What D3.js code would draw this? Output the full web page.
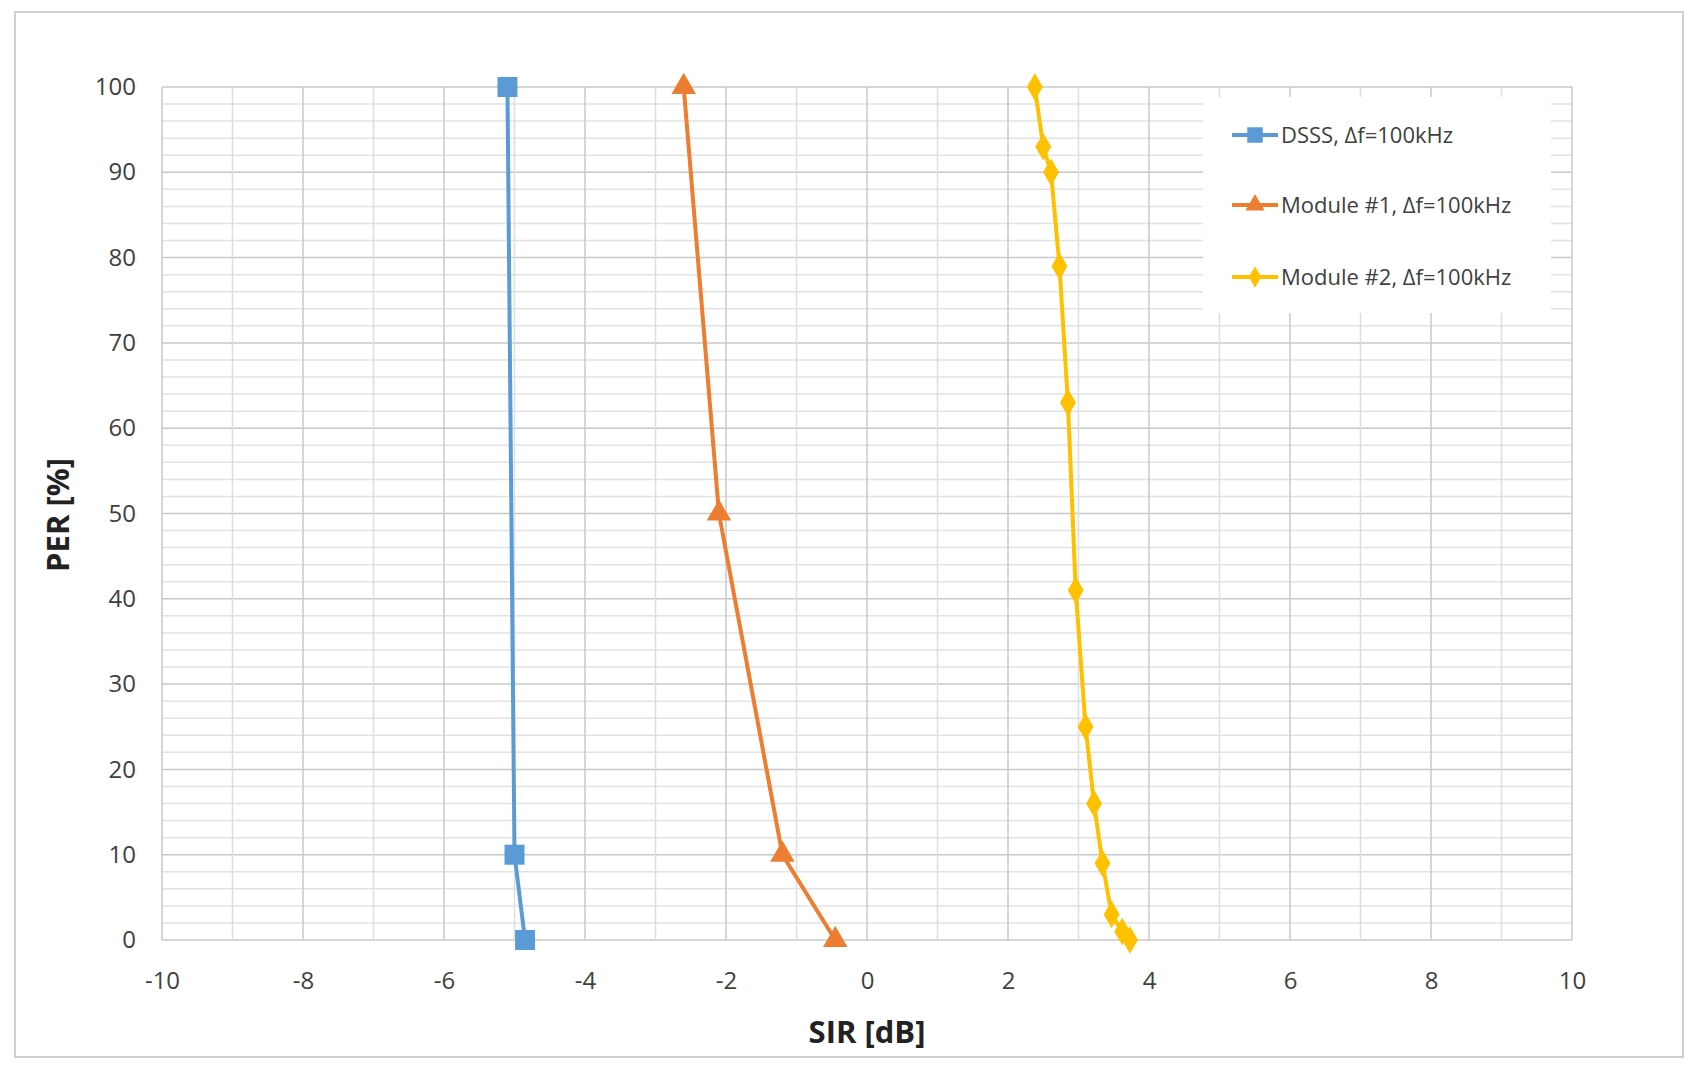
<!DOCTYPE html>
<html><head><meta charset="utf-8">
<script src="https://cdn.jsdelivr.net/npm/d3@7"></script>
<style>body{margin:0;background:#fff}text{font-family:"Open Sans",sans-serif}</style>
</head><body><svg id="c" width="1695" height="1068"></svg>
<script>
const dsssX = [-5.1, -5.0, -4.85];
const dsssY = [100, 10, 0];
const mod1X = [-2.6, -2.1, -1.2, -0.45];
const mod1Y = [100, 50, 10, 0];
const mod2X = [2.38, 2.5, 2.61, 2.73, 2.85, 2.96, 3.1, 3.22, 3.34, 3.47, 3.62, 3.73];
const mod2Y = [100, 93, 90, 79, 63, 41, 25, 16, 9, 3, 1, 0];
const seriesNames = ["DSSS, Δf=100kHz", "Module #1, Δf=100kHz", "Module #2, Δf=100kHz"];
const colors = ["#5b9bd5", "#ed7d31", "#ffc000"];

const svg = d3.select("#c");
svg.append("rect").attr("x", 15).attr("y", 12).attr("width", 1668).attr("height", 1045)
  .attr("fill", "#fff").attr("stroke", "#d0d0d0").attr("stroke-width", 2);

const x = d3.scaleLinear().domain([-10, 10]).range([162, 1572]);
const y = d3.scaleLinear().domain([0, 100]).range([940, 87]);

// grid
svg.append("g").selectAll("line").data(d3.range(0, 101, 2)).join("line")
  .attr("x1", x(-10)).attr("x2", x(10)).attr("y1", d => y(d)).attr("y2", d => y(d))
  .attr("stroke", d => d % 10 === 0 ? "#c8c8c8" : "#e2e2e2").attr("stroke-width", 1.5);
svg.append("g").selectAll("line").data(d3.range(-10, 11, 1)).join("line")
  .attr("y1", y(0)).attr("y2", y(100)).attr("x1", d => x(d)).attr("x2", d => x(d))
  .attr("stroke", d => d % 2 === 0 ? "#c8c8c8" : "#dedede").attr("stroke-width", 1.5);

const fmt = d => String(d);
const xa = svg.append("g").attr("transform", `translate(0,${y(0)})`)
  .call(d3.axisBottom(x).tickValues(d3.range(-10, 11, 2)).tickFormat(fmt).tickSize(0).tickPadding(32));
const ya = svg.append("g").attr("transform", `translate(${x(-10)},0)`)
  .call(d3.axisLeft(y).tickValues(d3.range(0, 101, 10)).tickFormat(fmt).tickSize(0).tickPadding(26));
[xa, ya].forEach(a => {
  a.select(".domain").remove();
  a.selectAll("text").attr("font-size", 24).attr("fill", "#404040").attr("font-family", "Open Sans");
});

svg.append("text").attr("x", 867).attr("y", 1043).attr("text-anchor", "middle")
  .attr("font-size", 31).attr("font-weight", "bold").attr("fill", "#222").text("SIR [dB]");
svg.append("text").attr("transform", "translate(69,515) rotate(-90)").attr("text-anchor", "middle")
  .attr("font-size", 31).attr("font-weight", "bold").attr("fill", "#222").text("PER [%]");

const data = [d3.zip(dsssX, dsssY), d3.zip(mod1X, mod1Y), d3.zip(mod2X, mod2Y)];
const line = d3.line().x(d => x(d[0])).y(d => y(d[1]));
const syms = [d3.symbolSquare, d3.symbolTriangle, d3.symbolDiamond];
const sizes = [400, 260, 220];

// legend background
svg.append("rect").attr("x", 1203).attr("y", 97).attr("width", 348).attr("height", 216).attr("fill", "#fff");

data.forEach((pts, i) => {
  svg.append("path").datum(pts).attr("d", line).attr("fill", "none")
    .attr("stroke", colors[i]).attr("stroke-width", 4);
  svg.append("g").selectAll("path").data(pts).join("path")
    .attr("transform", d => `translate(${x(d[0])},${y(d[1])})`)
    .attr("d", d3.symbol(syms[i], sizes[i])).attr("fill", colors[i]);
  const ly = [135, 205, 277][i];
  svg.append("line").attr("x1", 1232).attr("x2", 1278).attr("y1", ly).attr("y2", ly)
    .attr("stroke", colors[i]).attr("stroke-width", 4);
  svg.append("path").attr("transform", `translate(1255,${ly})`)
    .attr("d", d3.symbol(syms[i], sizes[i] * 0.6)).attr("fill", colors[i]);
  svg.append("text").attr("x", 1281).attr("y", ly + 8).attr("font-size", 22)
    .attr("fill", "#404040").text(seriesNames[i]);
});
</script></body></html>
